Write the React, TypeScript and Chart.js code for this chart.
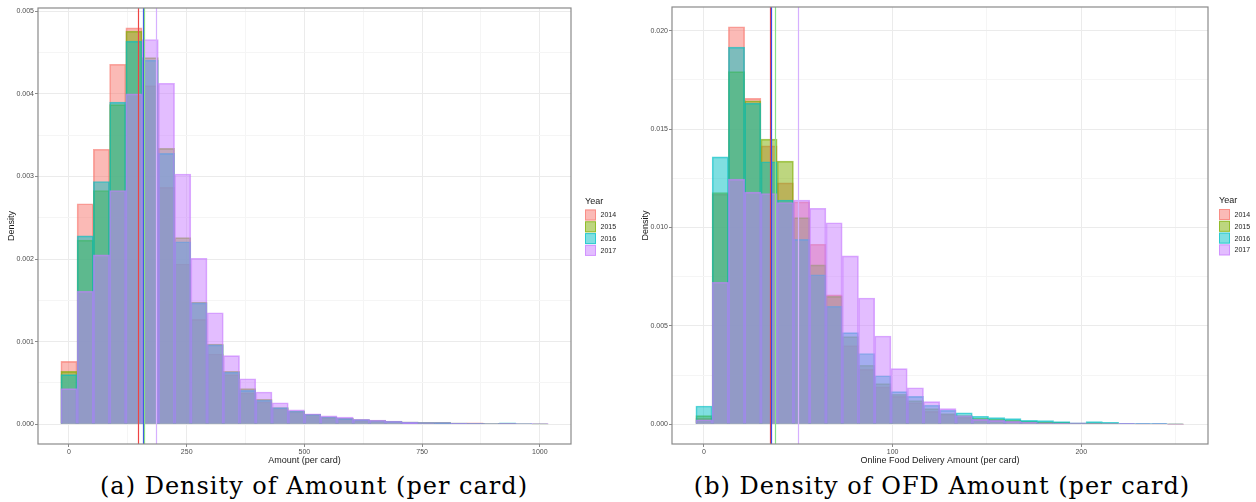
import React, { useEffect, useRef } from 'react';
import { Chart, registerables } from 'chart.js';
Chart.register(...registerables);

// ---------- data ----------
const YEARS = ['2014', '2015', '2016', '2017'];

// Panel (a): Amount (per card), bin width 34.5, bins centred on k*34.5
const AMT_BIN = 34.5;
const amt2014 = [0.00076, 0.00267, 0.00333, 0.00436, 0.0048, 0.0041, 0.00287, 0.00194, 0.00127, 0.00085, 0.0006, 0.00038, 0.00027, 0.00019, 0.00015, 0.00012, 0.000085, 0.00007, 0.00005, 0.000045, 0.000035, 0.000025, 0.00002, 0.000018, 0.000012, 0.000015, 0.000008, 0.00001, 0.000006, 0.000004];
const amt2015 = [0.00064, 0.00223, 0.00283, 0.00387, 0.00476, 0.00444, 0.00334, 0.00226, 0.00148, 0.00097, 0.00064, 0.00043, 0.0003, 0.0002, 0.00016, 0.00012, 0.000085, 0.00007, 0.000055, 0.000045, 0.000035, 0.000025, 0.00002, 0.000018, 0.000012, 0.00001, 0.000008, 0.00001, 0.000006, 0.000004];
const amt2016 = [0.0006, 0.00228, 0.00294, 0.0039, 0.00464, 0.00441, 0.00328, 0.00221, 0.00147, 0.00096, 0.00063, 0.00041, 0.00029, 0.0002, 0.00016, 0.00012, 0.00009, 0.00007, 0.000055, 0.000045, 0.000035, 0.000025, 0.00002, 0.000018, 0.000012, 0.00001, 0.000008, 0.000016, 0.000008, 0.000004];
const amt2017 = [0.00043, 0.00161, 0.00205, 0.00283, 0.004, 0.00466, 0.00413, 0.00303, 0.00201, 0.00135, 0.00083, 0.00055, 0.00039, 0.00026, 0.000175, 0.000126, 0.0001, 0.000085, 0.00006, 0.00005, 0.000037, 0.000025, 0.00002, 0.00002, 0.000012, 0.00001, 0.000008, 0.00001, 0.000008, 0.000008];
const amtMeans = [147, 160, 157.8, 184.8];
const amtXTicks = [0, 250, 500, 750, 1000];
const amtYTicks = [0, 0.001, 0.002, 0.003, 0.004, 0.005];

// Panel (b): Online Food Delivery amount (per card), bin width 8.62
const OFD_BIN = 8.62;
const ofd2014 = [0.0003, 0.0117, 0.0202, 0.01656, 0.01415, 0.01227, 0.0113, 0.00915, 0.00658, 0.004, 0.0028, 0.0019, 0.00142, 0.0011, 0.00066, 0.00051, 0.00036, 0.00025, 0.0002, 0.00015, 0.00012, 0.0001, 0.00008, 0.00005, 0.00005, 0.00004, 0.00003, 0.00002, 0.00002, 0.00001];
const ofd2015 = [0.00044, 0.01178, 0.01792, 0.01644, 0.01449, 0.01337, 0.0105, 0.0081, 0.0065, 0.00446, 0.003, 0.00207, 0.00153, 0.0012, 0.0008, 0.00055, 0.00045, 0.0003, 0.00025, 0.0002, 0.00015, 0.00012, 0.0001, 0.00006, 0.00008, 0.00006, 0.00004, 0.00003, 0.00003, 0.00002];
const ofd2016 = [0.00093, 0.01359, 0.01917, 0.01632, 0.01334, 0.0114, 0.0094, 0.0076, 0.006, 0.00466, 0.0036, 0.00247, 0.00166, 0.00142, 0.00097, 0.00071, 0.00059, 0.00041, 0.00034, 0.00029, 0.0002, 0.00019, 0.00014, 0.00008, 0.00014, 0.0001, 0.00005, 0.00005, 0.00005, 0.00002];
const ofd2017 = [0.00023, 0.00722, 0.01246, 0.0118, 0.01173, 0.01127, 0.0114, 0.01098, 0.01024, 0.00856, 0.00642, 0.00449, 0.00283, 0.00186, 0.00115, 0.0008, 0.00045, 0.00025, 0.0002, 0.00015, 0.0001, 0.00008, 0.00006, 0.00008, 0.00004, 0.00004, 0.00005, 0.00004, 0.00004, 0.00001];
const ofdMeans = [35.2, 37.5, 35.7, 50];
const ofdXTicks = [0, 100, 200];
const ofdYTicks = [0, 0.005, 0.01, 0.015, 0.02];

// ---------- styles ----------
const FILLS = ['rgba(248,118,109,0.5)', 'rgba(124,174,0,0.5)', 'rgba(0,191,196,0.5)', 'rgba(199,124,255,0.5)'];
const EDGES = ['rgba(248,118,109,0.65)', 'rgba(124,174,0,0.65)', 'rgba(0,191,196,0.65)', 'rgba(199,124,255,0.65)'];
const LINES = ['#ee4444', '#86e086', '#3a4ee8', '#d6b0ff'];
const LINE_ORDER = [0, 2, 1, 3];
const SANS = "'Liberation Sans', Arial, sans-serif";

type PanelProps = {
  left: number;
  width: number;
  height: number;
  bin: number;
  series: number[][];
  means: number[];
  xTicks: number[];
  yTicks: number[];
  xMin: number;
  xMax: number;
  yMin: number;
  yMax: number;
  xTitle: string;
  pad: { left: number; top: number; right: number };
  yAxisWidth: number;
  xAxisHeight: number;
  yTitleOffset: number;
  legendX: number;
  legendY: number;
  yDigits: number;
};

function withMinors(majors: number[], min: number, max: number): number[] {
  const step = majors[1] - majors[0];
  const out: number[] = [];
  for (let v = majors[0] - step; v <= majors[majors.length - 1] + step + 1e-12; v += step) {
    if (v >= min - 1e-12 && v <= max + 1e-12) out.push(v);
    const m = v + step / 2;
    if (m >= min && m <= max) out.push(m);
  }
  return out;
}

function Panel(p: PanelProps) {
  const ref = useRef<HTMLCanvasElement>(null);
  useEffect(() => {
    const canvas = ref.current!;
    const xStep = p.xTicks[1] - p.xTicks[0];
    const yStep = p.yTicks[1] - p.yTicks[0];
    const isMajor = (v: number, step: number) => Math.abs(v / step - Math.round(v / step)) < 1e-6;
    const xAll = withMinors(p.xTicks, p.xMin, p.xMax);
    const yAll = withMinors(p.yTicks, p.yMin, p.yMax);

    const overlay = {
      id: 'overlay',
      afterDatasetsDraw(chart: any) {
        const { ctx, chartArea, scales } = chart;
        ctx.save();
        LINE_ORDER.forEach((i) => {
          const x = Math.round(scales.x.getPixelForValue(p.means[i])) + 0.5;
          ctx.strokeStyle = LINES[i];
          ctx.lineWidth = 1.2;
          ctx.beginPath();
          ctx.moveTo(x, chartArea.top);
          ctx.lineTo(x, chartArea.bottom);
          ctx.stroke();
        });
        ctx.restore();
      },
      afterDraw(chart: any) {
        const { ctx, chartArea } = chart;
        ctx.save();
        ctx.strokeStyle = '#8a8a8a';
        ctx.lineWidth = 1.2;
        ctx.strokeRect(chartArea.left, chartArea.top, chartArea.right - chartArea.left, chartArea.bottom - chartArea.top);
        // legend
        ctx.fillStyle = '#1a1a1a';
        ctx.font = `9px ${SANS}`;
        ctx.textBaseline = 'middle';
        ctx.textAlign = 'left';
        ctx.fillText('Year', p.legendX, p.legendY);
        YEARS.forEach((y, i) => {
          const by = p.legendY + 8 + i * 11.8;
          ctx.fillStyle = '#ffffff';
          ctx.fillRect(p.legendX, by, 11, 11);
          ctx.fillStyle = FILLS[i];
          ctx.fillRect(p.legendX, by, 11, 11);
          ctx.strokeStyle = EDGES[i];
          ctx.lineWidth = 1;
          ctx.strokeRect(p.legendX + 0.5, by + 0.5, 10, 10);
          ctx.fillStyle = '#1a1a1a';
          ctx.font = `7px ${SANS}`;
          ctx.fillText(y, p.legendX + 15.5, by + 6);
        });
        ctx.restore();
      },
    };

    const chart = new Chart(canvas, {
      type: 'bar',
      data: {
        datasets: p.series.map((vals, i) => ({
          label: YEARS[i],
          data: vals.map((v, k) => ({ x: k * p.bin, y: v })),
          backgroundColor: FILLS[i],
          borderColor: EDGES[i],
          borderWidth: 1,
          order: p.series.length - i,
          barPercentage: 1,
          categoryPercentage: 1,
          grouped: false,
        })),
      } as any,
      options: {
        animation: false,
        responsive: false,
        maintainAspectRatio: false,
        layout: { padding: { left: p.pad.left, top: p.pad.top, right: p.pad.right, bottom: 0 } },
        plugins: { legend: { display: false }, tooltip: { enabled: false } },
        scales: {
          x: {
            type: 'linear',
            min: p.xMin,
            max: p.xMax,
            offset: false,
            afterBuildTicks: (s: any) => { s.ticks = xAll.map((v) => ({ value: v })); },
            afterFit: (s: any) => { s.height = p.xAxisHeight; },
            ticks: {
              autoSkip: false,
              maxRotation: 0,
              padding: 1,
              color: '#4d4d4d',
              font: { family: SANS, size: 7 },
              callback: (v: any) => (isMajor(v, xStep) ? String(Math.round(v)) : ''),
            },
            grid: {
              offset: false,
              color: (c: any) => (isMajor(c.tick.value, xStep) ? '#ebebeb' : '#f5f5f5'),
              tickColor: (c: any) => (isMajor(c.tick.value, xStep) ? '#8a8a8a' : 'rgba(0,0,0,0)'),
              tickLength: 3,
            },
            border: { display: false },
            title: {
              display: true,
              text: p.xTitle,
              color: '#1a1a1a',
              font: { family: SANS, size: 9 },
              padding: { top: 0, bottom: 4 },
            },
          },
          y: {
            type: 'linear',
            min: p.yMin,
            max: p.yMax,
            afterBuildTicks: (s: any) => { s.ticks = yAll.map((v) => ({ value: v })); },
            afterFit: (s: any) => { s.width = p.yAxisWidth; },
            ticks: {
              autoSkip: false,
              padding: 1,
              color: '#4d4d4d',
              font: { family: SANS, size: 7 },
              callback: (v: any) => (isMajor(v, yStep) ? Number(v).toFixed(p.yDigits) : ''),
            },
            grid: {
              color: (c: any) => (isMajor(c.tick.value, yStep) ? '#ebebeb' : '#f5f5f5'),
              tickColor: (c: any) => (isMajor(c.tick.value, yStep) ? '#8a8a8a' : 'rgba(0,0,0,0)'),
              tickLength: 3,
            },
            border: { display: false },
            title: {
              display: true,
              text: 'Density',
              color: '#1a1a1a',
              font: { family: SANS, size: 9 },
              padding: { top: p.yTitleOffset, bottom: 0 },
            },
          },
        },
      } as any,
      plugins: [overlay],
    });
    return () => chart.destroy();
  }, []);
  return (
    <canvas
      ref={ref}
      width={p.width}
      height={p.height}
      style={{ position: 'absolute', left: p.left, top: 0, width: p.width, height: p.height }}
    />
  );
}

const captionStyle: React.CSSProperties = {
  position: 'absolute',
  top: 472,
  width: 628,
  textAlign: 'center',
  fontFamily: "'DejaVu Serif', serif",
  fontSize: 24,
  letterSpacing: '1px',
  lineHeight: '28px',
  color: '#000',
  whiteSpace: 'nowrap',
};

export default function App() {
  return (
    <div style={{ position: 'absolute', left: 0, top: 0, width: 1256, height: 502, background: '#fff', overflow: 'hidden' }}>
      <Panel
        left={0}
        width={628}
        height={470}
        bin={AMT_BIN}
        series={[amt2014, amt2015, amt2016, amt2017]}
        means={amtMeans}
        xTicks={amtXTicks}
        yTicks={amtYTicks}
        xMin={-65.8}
        xMax={1066.3}
        yMin={-0.00024}
        yMax={0.005041}
        xTitle="Amount (per card)"
        pad={{ left: 0, top: 8, right: 57 }}
        yAxisWidth={38}
        xAxisHeight={26}
        yTitleOffset={6.5}
        legendX={585}
        legendY={201.5}
        yDigits={3}
      />
      <Panel
        left={628}
        width={628}
        height={470}
        bin={OFD_BIN}
        series={[ofd2014, ofd2015, ofd2016, ofd2017]}
        means={ofdMeans}
        xTicks={ofdXTicks}
        yTicks={ofdYTicks}
        xMin={-16.96}
        xMax={267.2}
        yMin={-0.001}
        yMax={0.021205}
        xTitle="Online Food Delivery Amount (per card)"
        pad={{ left: 0, top: 7, right: 48 }}
        yAxisWidth={44}
        xAxisHeight={26}
        yTitleOffset={12}
        legendX={591}
        legendY={201}
        yDigits={3}
      />
      <div style={{ ...captionStyle, left: 0 }}>(a) Density of Amount (per card)</div>
      <div style={{ ...captionStyle, left: 628 }}>(b) Density of OFD Amount (per card)</div>
    </div>
  );
}
